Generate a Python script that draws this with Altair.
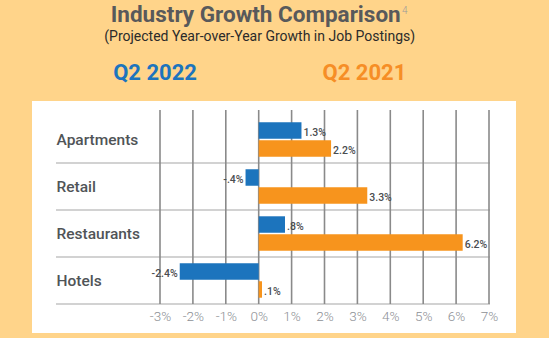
import altair as alt
import pandas as pd

# ---- data ----
categories = ["Apartments", "Retail", "Restaurants", "Hotels"]
series = ["Q2 2022", "Q2 2021"]
q2_2022 = [1.3, -0.4, 0.8, -2.4]
q2_2021 = [2.2, 3.3, 6.2, 0.1]
x_ticks = [-3, -2, -1, 0, 1, 2, 3, 4, 5, 6, 7]
title_text = "Industry Growth Comparison"
title_sup = "4"
subtitle_text = "(Projected Year-over-Year Growth in Job Postings)"

BLUE = "#1C74BD"
ORANGE = "#F7941D"
BG = "#FFD48A"
FONT = "Roboto"


def fmt(v):
    s = f"{abs(v):.1f}"
    if s.startswith("0"):
        s = s[1:]
    return ("-" if v < 0 else "") + s + "%"


rows = []
for c, a, b in zip(categories, q2_2022, q2_2021):
    rows.append(dict(category=c, series=series[0], value=a, label=fmt(a)))
    rows.append(dict(category=c, series=series[1], value=b, label=fmt(b)))
df = pd.DataFrame(rows)

W, H = 329, 188
xscale = alt.Scale(domain=[-3, 7], nice=False, zero=False)
yscale = alt.Scale(domain=categories, paddingInner=0, paddingOuter=0)
yoff = alt.YOffset("series:N", sort=series,
                   scale=alt.Scale(domain=series, paddingInner=0.083, paddingOuter=0.35))

x_axis = alt.Axis(values=x_ticks, labelExpr="datum.value + '%'", domain=False,
                  ticks=False, grid=False, labelFont=FONT, labelFontSize=13.5,
                  labelFontWeight=300, labelColor="#8d9095", labelPadding=5, title=None,
                  labelFlush=False, labelOverlap=False, zindex=2)
y_axis = alt.Axis(domain=False, ticks=False, labelAlign="left", labelPadding=104,
                  labelFont=FONT, labelFontSize=15.5, labelFontWeight=500,
                  labelColor="#505457", title=None, zindex=2)

X = lambda f: alt.X(f, scale=xscale, axis=x_axis)
Y = lambda f, **kw: alt.Y(f, scale=yscale, axis=y_axis, **kw)

panel = alt.Chart(pd.DataFrame({"a": [0]})).mark_rect(color="white").encode(
    x=alt.value(-128), x2=alt.value(356), y=alt.value(-15), y2=alt.value(217)
)

separators = alt.Chart(pd.DataFrame({"category": categories})).mark_rule(
    color="#d2d2d2", strokeWidth=2
).encode(
    y=Y("category:N", bandPosition=1),
    x=alt.value(-104), x2=alt.value(W + 1),
)

gridlines = alt.Chart(pd.DataFrame({"tick": x_ticks})).mark_rule(
    color="#8a8a8a", strokeWidth=1.6
).encode(
    x=X("tick:Q"),
    y=alt.value(-6), y2=alt.value(H),
)

base = alt.Chart(df)

bars = base.mark_bar().encode(
    x=X("value:Q"),
    x2=alt.datum(0),
    y=Y("category:N"),
    yOffset=yoff,
    color=alt.Color("series:N", scale=alt.Scale(domain=series, range=[BLUE, ORANGE]), legend=None),
)

txt_style = dict(font=FONT, fontSize=10.5, fontWeight=500, color="#4a4d50", dy=2.5)
pos_labels = base.transform_filter("datum.value >= 0").mark_text(
    align="left", dx=2, **txt_style
).encode(x=X("value:Q"), y=Y("category:N"), yOffset=yoff, text="label:N")
neg_labels = base.transform_filter("datum.value < 0").mark_text(
    align="right", dx=-2, **txt_style
).encode(x=X("value:Q"), y=Y("category:N"), yOffset=yoff, text="label:N")


def header(text, x, y, size, color, weight, align="center"):
    return alt.Chart(pd.DataFrame({"t": [text]})).mark_text(
        align=align, baseline="alphabetic", fontSize=size, color=color,
        fontWeight=weight, font=FONT
    ).encode(x=alt.value(x), y=alt.value(y), text="t:N")


t1 = header(title_text, 240.7, -94, 22.5, "#58595b", "bold", align="right")
t2 = header(title_sup, 242, -102, 10, "#9a9a9a", 300, align="left")
t3 = header(subtitle_text, 99.7, -75.5, 14, "#2b2b2b", "normal")
t4 = header(series[0], -5, -36, 22, BLUE, "bold")
t5 = header(series[1], 204.4, -36, 22, "#F68E26", "bold")

chart = alt.layer(
    panel, separators, gridlines, bars, pos_labels, neg_labels, t1, t2, t3, t4, t5
).properties(
    width=W, height=H,
    autosize=alt.AutoSizeParams(type="none"),
    padding={"left": 160, "top": 116, "right": 60, "bottom": 34},
    background=BG,
).configure_view(strokeWidth=0)

chart.save("out.html", embed_options={"renderer": "svg", "actions": False})
